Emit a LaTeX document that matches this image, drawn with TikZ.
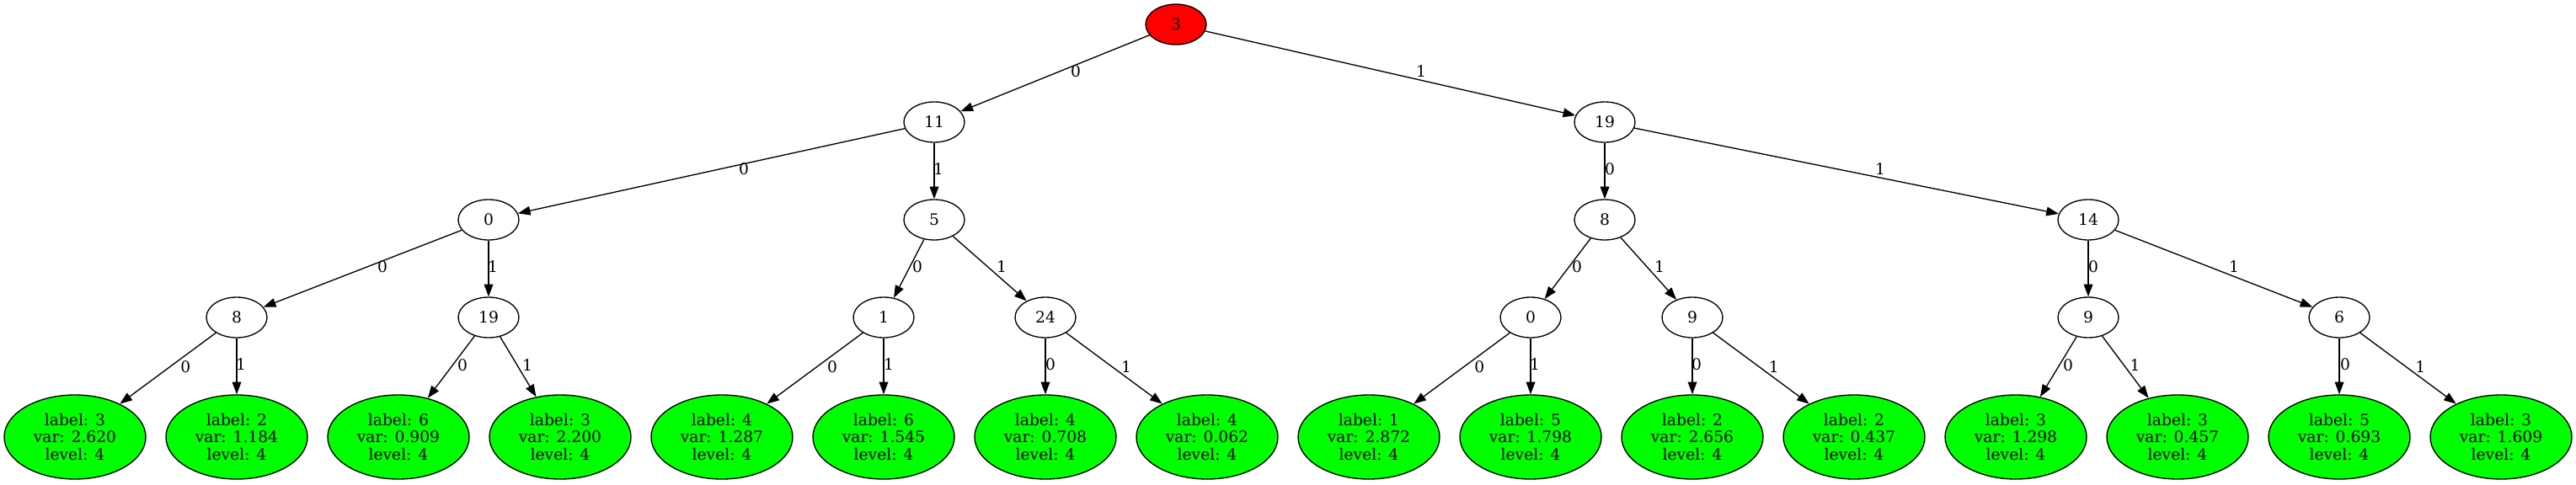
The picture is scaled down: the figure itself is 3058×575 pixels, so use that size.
\documentclass[tikz,border=0pt]{standalone}
\usepackage{fontspec}
\setmainfont{DejaVu Serif}
\usepackage{xcolor}
\usepackage{tikz}
\usetikzlibrary{shapes.geometric, arrows.meta}

\definecolor{rootred}{RGB}{255,0,0}
\definecolor{leafgreen}{RGB}{0,255,0}

\begin{document}
\begin{tikzpicture}[
        x=0.75pt, y=-0.75pt,
        >={Triangle[length=11pt, width=8pt]},
        every node/.style={font=\fontsize{14}{15.5}\selectfont},
        splitnode/.style={draw, ellipse, line width=1pt, minimum width=54pt, minimum height=36pt, inner sep=0pt},
        leafnode/.style={draw, ellipse, line width=1pt, fill=leafgreen, minimum width=126pt, minimum height=75pt, inner sep=0pt, align=center},
        branch/.style={->, line width=1pt},
        lbl/.style={midway, inner sep=0pt, yshift=1.5pt}
    ]
        \useasboundingbox (0,0) rectangle (3058,575);

        % Nodes
        \node (r) [splitnode, fill=rootred] at (1396,29) {3};
        \node (r0) [splitnode] at (1109,145) {11};
        \node (r1) [splitnode] at (1905,145) {19};
        \node (r00) [splitnode] at (580,261) {0};
        \node (r01) [splitnode] at (1109,261) {5};
        \node (r10) [splitnode] at (1905,261) {8};
        \node (r11) [splitnode] at (2479,261) {14};
        \node (r000) [splitnode] at (281,377) {8};
        \node (r001) [splitnode] at (580,377) {19};
        \node (r010) [splitnode] at (1049,377) {1};
        \node (r011) [splitnode] at (1241,377) {24};
        \node (r100) [splitnode] at (1817,377) {0};
        \node (r101) [splitnode] at (2009,377) {9};
        \node (r110) [splitnode] at (2479,377) {9};
        \node (r111) [splitnode] at (2777,377) {6};

        % Leaves
        \node (r0000) [leafnode] at (89,519) {label: 3\\var: 2.620\\level: 4};
        \node (r0001) [leafnode] at (281,519) {label: 2\\var: 1.184\\level: 4};
        \node (r0010) [leafnode] at (473,519) {label: 6\\var: 0.909\\level: 4};
        \node (r0011) [leafnode] at (665,519) {label: 3\\var: 2.200\\level: 4};
        \node (r0100) [leafnode] at (857,519) {label: 4\\var: 1.287\\level: 4};
        \node (r0101) [leafnode] at (1049,519) {label: 6\\var: 1.545\\level: 4};
        \node (r0110) [leafnode] at (1241,519) {label: 4\\var: 0.708\\level: 4};
        \node (r0111) [leafnode] at (1433,519) {label: 4\\var: 0.062\\level: 4};
        \node (r1000) [leafnode] at (1625,519) {label: 1\\var: 2.872\\level: 4};
        \node (r1001) [leafnode] at (1817,519) {label: 5\\var: 1.798\\level: 4};
        \node (r1010) [leafnode] at (2009,519) {label: 2\\var: 2.656\\level: 4};
        \node (r1011) [leafnode] at (2201,519) {label: 2\\var: 0.437\\level: 4};
        \node (r1100) [leafnode] at (2393,519) {label: 3\\var: 1.298\\level: 4};
        \node (r1101) [leafnode] at (2585,519) {label: 3\\var: 0.457\\level: 4};
        \node (r1110) [leafnode] at (2777,519) {label: 5\\var: 0.693\\level: 4};
        \node (r1111) [leafnode] at (2969,519) {label: 3\\var: 1.609\\level: 4};

        % Arrows
        \draw [branch] (r) -- node[lbl, xshift=18.4pt] {0} (r0);
        \draw [branch] (r) -- node[lbl, xshift=27.4pt] {1} (r1);
        \draw [branch] (r0) -- node[lbl, xshift=28.9pt] {0} (r00);
        \draw [branch] (r0) -- node[lbl, xshift=3.8pt] {1} (r01);
        \draw [branch] (r1) -- node[lbl, xshift=4.5pt] {0} (r10);
        \draw [branch] (r1) -- node[lbl, xshift=30pt] {1} (r11);
        \draw [branch] (r00) -- node[lbl, xshift=17.6pt] {0} (r000);
        \draw [branch] (r00) -- node[lbl, xshift=3.8pt] {1} (r001);
        \draw [branch] (r01) -- node[lbl, xshift=7.5pt] {0} (r010);
        \draw [branch] (r01) -- node[lbl, xshift=10.5pt] {1} (r011);
        \draw [branch] (r10) -- node[lbl, xshift=8.3pt] {0} (r100);
        \draw [branch] (r10) -- node[lbl, xshift=9.8pt] {1} (r101);
        \draw [branch] (r11) -- node[lbl, xshift=4.5pt] {0} (r110);
        \draw [branch] (r11) -- node[lbl, xshift=18pt] {1} (r111);

        % Arrows to leaves
        \draw [branch] (r000) -- node[lbl, xshift=15.8pt] {0} (r0000);
        \draw [branch] (r000) -- node[lbl, xshift=3.8pt] {1} (r0001);
        \draw [branch] (r001) -- node[lbl, xshift=10pt] {0} (r0010);
        \draw [branch] (r001) -- node[lbl, xshift=8.3pt] {1} (r0011);
        \draw [branch] (r010) -- node[lbl, xshift=15.5pt] {0} (r0100);
        \draw [branch] (r010) -- node[lbl, xshift=4.5pt] {1} (r0101);
        \draw [branch] (r011) -- node[lbl, xshift=4.5pt] {0} (r0110);
        \draw [branch] (r011) -- node[lbl, xshift=10.7pt] {1} (r0111);
        \draw [branch] (r100) -- node[lbl, xshift=15.8pt] {0} (r1000);
        \draw [branch] (r100) -- node[lbl, xshift=3.8pt] {1} (r1001);
        \draw [branch] (r101) -- node[lbl, xshift=3.8pt] {0} (r1010);
        \draw [branch] (r101) -- node[lbl, xshift=11.3pt] {1} (r1011);
        \draw [branch] (r110) -- node[lbl, xshift=8.6pt] {0} (r1100);
        \draw [branch] (r110) -- node[lbl, xshift=8.7pt] {1} (r1101);
        \draw [branch] (r111) -- node[lbl, xshift=5.3pt] {0} (r1110);
        \draw [branch] (r111) -- node[lbl, xshift=11pt] {1} (r1111);
\end{tikzpicture}
\end{document}
